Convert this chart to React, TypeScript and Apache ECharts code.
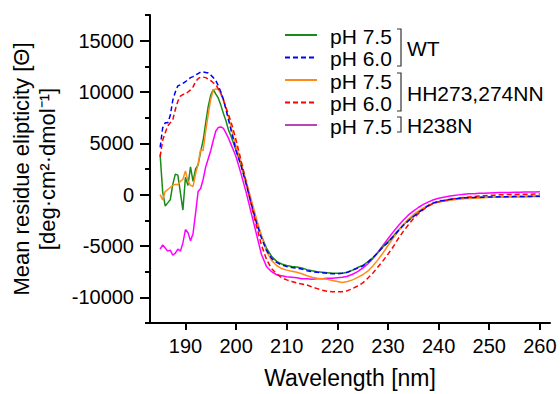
import React, { useEffect, useRef } from "react";
import * as echarts from "echarts";

const wavelengths = [
  185, 185.5, 186, 186.5, 187, 187.5, 188, 188.5, 189, 189.5, 190, 190.5, 191, 191.5, 192, 192.5,
  193, 193.5, 194, 194.5, 195, 195.5, 196, 196.5, 197, 197.5, 198, 198.5, 199, 199.5, 200,
  201, 202, 203, 204, 205, 206, 207, 208, 209, 210, 211, 212, 213, 214, 215, 216, 217, 218, 219, 220,
  221, 222, 223, 224, 225, 226, 227, 228, 229, 230, 231, 232, 233, 234, 235, 236, 237, 238, 239, 240,
  241, 242, 243, 244, 245, 246, 247, 248, 249, 250, 251, 252, 253, 254, 255, 256, 257, 258, 259, 260,
];

const wtPh75 = [
  3900, 300, -1100, -800, -500, 1000, 2000, 1900, 200, -1500, 1700, 900, 2700, 1300, 2500, 2900,
  4200, 5300, 7000, 8600, 9700, 10250, 9800, 9400, 8700, 7900, 7200, 6300, 5700, 5000, 4300,
  2900, 1100, -700, -2500, -4000, -5200, -6000, -6500, -6750, -6900, -7000, -7050, -7150, -7300, -7400,
  -7500, -7550, -7600, -7650, -7650, -7650, -7550, -7350, -7100, -6900, -6550, -6150, -5650, -5100, -4600,
  -4050, -3500, -2950, -2500, -2100, -1700, -1350, -1050, -820, -680, -580, -500, -440, -390, -350,
  -320, -300, -280, -260, -250, -240, -230, -220, -210, -210, -200, -200, -190, -190, -180,
];

const wtPh60 = [
  4600, 6500, 7000, 7000, 7700, 9200, 10000, 10600, 10700, 10850, 11000, 11200, 11400, 11500, 11650, 11800,
  11950, 11950, 11900, 11850, 11650, 11400, 11100, 10600, 10000, 9300, 8300, 7300, 6300, 5300, 4300,
  2800, 1000, -900, -2700, -4200, -5400, -6200, -6600, -6850, -7000, -7100, -7150, -7250, -7400, -7500,
  -7550, -7600, -7650, -7700, -7700, -7650, -7550, -7350, -7150, -6950, -6600, -6150, -5650, -5100, -4650,
  -4100, -3550, -3000, -2550, -2150, -1750, -1400, -1050, -800, -650, -560, -480, -420, -360, -310,
  -290, -270, -250, -240, -230, -220, -210, -200, -200, -190, -180, -180, -170, -160, -160,
];

const hhPh75 = [
  0, -500, 300, 500, 700, 900, 1000, 1000, 1300, 1500, 2300, 1300, 900, 800, 2000, 3000,
  4400, 4300, 6200, 7800, 9300, 10200, 10300, 10250, 9800, 9200, 8400, 7500, 6600, 5600, 4700,
  3100, 1300, -500, -2300, -4000, -5500, -6400, -6900, -7200, -7350, -7450, -7550, -7700, -7900, -8050,
  -8150, -8200, -8250, -8350, -8450, -8550, -8450, -8300, -8050, -7800, -7450, -6950, -6350, -5700, -4950,
  -4250, -3600, -2950, -2400, -1950, -1600, -1300, -1050, -850, -720, -640, -560, -500, -450, -410,
  -380, -350, -320, -290, -260, -240, -220, -200, -180, -160, -150, -140, -120, -110, -100,
];

const hhPh60 = [
  3700, 5300, 6000, 6700, 7000, 7300, 8300, 9100, 9600, 9750, 9800, 10000, 10200, 10500, 11000, 11300,
  11450, 11450, 11400, 11250, 11100, 10900, 10700, 10300, 9900, 9200, 8500, 7800, 7100, 6200, 5300,
  3300, 1200, -1000, -3000, -4900, -6300, -7200, -7700, -8100, -8300, -8450, -8600, -8700, -8800, -9000,
  -9150, -9300, -9400, -9450, -9450, -9450, -9350, -9150, -8900, -8600, -8150, -7650, -7050, -6450, -5800,
  -5100, -4300, -3600, -2950, -2350, -1850, -1450, -1100, -850, -700, -600, -500, -400, -330, -270,
  -220, -180, -140, -100, -70, -50, -20, 0, 10, 20, 30, 40, 50, 55, 60,
];

const h238nPh75 = [
  -5300, -4900, -5200, -5500, -5400, -5900, -5700, -5300, -5500, -4700, -3400, -3700, -4500, -3800, -1800, 300,
  600, 1500, 2700, 3500, 4300, 5300, 6200, 6550, 6600, 6450, 6000, 5500, 4900, 4300, 3700,
  2000, 200, -1800, -3800, -5800, -7000, -7500, -7800, -7900, -8000, -8050, -8100, -8200, -8200, -8250,
  -8200, -8200, -8150, -8150, -8100, -8050, -7950, -7750, -7500, -7150, -6750, -6250, -5600, -4950, -4300,
  -3650, -3050, -2500, -2000, -1600, -1250, -950, -700, -500, -350, -250, -150, -80, -20, 30,
  80, 100, 130, 150, 170, 190, 200, 210, 220, 230, 240, 250, 260, 270, 280,
];

const xTickValues = [190, 200, 210, 220, 230, 240, 250, 260];
const yMajorTicks = [-10000, -5000, 0, 5000, 10000, 15000];
const yMinorTicks = [-12500, -7500, -2500, 2500, 7500, 12500, 17500];

const legendRows = [
  { label: "pH 7.5", color: "#1a8a1a", dashed: false },
  { label: "pH 6.0", color: "#0000ff", dashed: true },
  { label: "pH 7.5", color: "#ff8c1a", dashed: false },
  { label: "pH 6.0", color: "#ff0000", dashed: true },
  { label: "pH 7.5", color: "#b844b8", dashed: false },
];
const groupLabels = ["WT", "HH273,274NN", "H238N"];

const FONT = "'Liberation Sans', Arial, sans-serif";

export default function App() {
  const ref = useRef<HTMLDivElement>(null);

  useEffect(() => {
    if (!ref.current) return;
    document.body.style.margin = "0";
    const chart = echarts.init(ref.current, null, { renderer: "svg" });

    const mk = (name: string, vals: number[], color: string, dashed: boolean) => ({
      name,
      type: "line",
      data: wavelengths.map((w, i) => [w, vals[i]]),
      showSymbol: false,
      symbol: "none",
      lineStyle: { color, width: 1.5, type: dashed ? [5, 3] : "solid" },
      itemStyle: { color },
    });

    const rowY = [35, 57.5, 80, 102.5, 125];
    const legendEls: any[] = [];
    legendRows.forEach((r, i) => {
      legendEls.push({
        type: "line",
        shape: { x1: 285, y1: rowY[i], x2: 317, y2: rowY[i] },
        style: { stroke: r.color, lineWidth: 2, lineDash: r.dashed ? [5, 3] : null },
      });
      legendEls.push({
        type: "text",
        x: 330,
        y: rowY[i] + 1,
        style: {
          text: r.label,
          font: `21px ${FONT}`,
          fill: "#000",
          verticalAlign: "middle",
        },
      });
    });
    const brackets = [
      [29, 66],
      [73, 111],
      [117, 132],
    ];
    brackets.forEach(([t, b], i) => {
      legendEls.push({
        type: "polyline",
        shape: { points: [[397, t], [401, t], [401, b], [397, b]] },
        style: { stroke: "#333", lineWidth: 1.2, fill: null },
      });
      legendEls.push({
        type: "text",
        x: 407,
        y: (t + b) / 2 + 1,
        style: {
          text: groupLabels[i],
          font: `21px ${FONT}`,
          fill: "#000",
          verticalAlign: "middle",
        },
      });
    });

    chart.setOption({
      animation: false,
      backgroundColor: "#fff",
      textStyle: { fontFamily: FONT },
      grid: { left: 150, right: 10, top: 15, bottom: 68, containLabel: false },
      xAxis: {
        type: "value",
        min: 183,
        max: 262,
        name: "Wavelength [nm]",
        nameLocation: "middle",
        nameGap: 43,
        nameTextStyle: { fontSize: 23, color: "#000", fontFamily: FONT },
        axisLine: { onZero: false, lineStyle: { color: "#000", width: 2 } },
        axisTick: { customValues: xTickValues, length: 7, lineStyle: { color: "#000", width: 2 } },
        axisLabel: { customValues: xTickValues, fontSize: 20, color: "#000", margin: 13, fontFamily: FONT },
        splitLine: { show: false },
      },
      yAxis: [
        {
          type: "value",
          min: -12500,
          max: 17500,
          interval: 2500,
          name: "Mean residue elipticity [Θ]\n[deg·cm²·dmol⁻¹]",
          nameLocation: "middle",
          nameGap: 82,
          nameTextStyle: { fontSize: 22, lineHeight: 26, color: "#000", fontFamily: FONT, align: "center" },
          axisLine: { onZero: false, lineStyle: { color: "#000", width: 2 } },
          axisTick: { customValues: yMajorTicks, length: 10, lineStyle: { color: "#000", width: 2 } },
          axisLabel: {
            customValues: yMajorTicks,
            fontSize: 20,
            color: "#000",
            margin: 16,
            fontFamily: FONT,
            formatter: (v: number) => String(v),
          },
          splitLine: { show: false },
        },
        {
          type: "value",
          min: -12500,
          max: 17500,
          interval: 2500,
          position: "left",
          axisLine: { show: false },
          axisTick: { customValues: yMinorTicks, length: 5, lineStyle: { color: "#000", width: 2 } },
          axisLabel: { show: false },
          splitLine: { show: false },
        },
      ],
      series: [
        mk("H238N pH 7.5", h238nPh75, "#ff00ff", false),
        mk("WT pH 7.5", wtPh75, "#1a8a1a", false),
        mk("HH273,274NN pH 7.5", hhPh75, "#ff8c1a", false),
        mk("HH273,274NN pH 6.0", hhPh60, "#ff0000", true),
        mk("WT pH 6.0", wtPh60, "#0000ff", true),
      ],
      graphic: legendEls,
    });

    return () => chart.dispose();
  }, []);

  return <div ref={ref} style={{ width: 560, height: 394 }} />;
}
